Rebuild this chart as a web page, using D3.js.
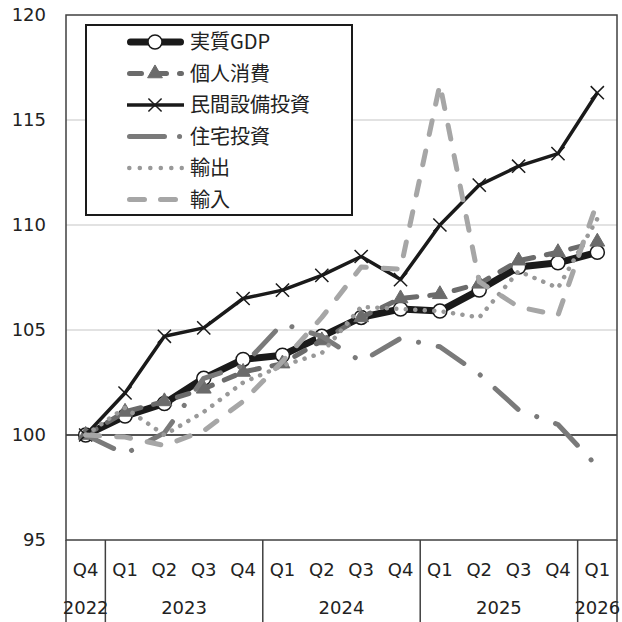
<!DOCTYPE html>
<html><head><meta charset="utf-8">
<script src="https://cdn.jsdelivr.net/npm/d3@7"></script>
<style>html,body{margin:0;padding:0;background:#fff}</style>
</head><body>
<svg id="chart" width="622" height="622"></svg>
<script>
// Quarterly index, 2022 Q4 = 100
const quarters = ["Q4","Q1","Q2","Q3","Q4","Q1","Q2","Q3","Q4","Q1","Q2","Q3","Q4","Q1"];
const yearLabels = ["2022","2023","2024","2025","2026"];
const yearStart = [0, 1, 5, 9, 13];
const yearEnd = [0, 4, 8, 12, 13];
const yTicks = [95, 100, 105, 110, 115, 120];

const gdp         = [100, 100.9, 101.5, 102.7, 103.6, 103.8, 104.7, 105.6, 106.0, 105.9, 106.9, 108.0, 108.2, 108.7];
const consumption = [100, 101.1, 101.6, 102.2, 103.0, 103.4, 104.5, 105.6, 106.5, 106.7, 107.2, 108.3, 108.7, 109.2];
const capex       = [100, 102.0, 104.7, 105.1, 106.5, 106.9, 107.6, 108.5, 107.4, 110.0, 111.9, 112.8, 113.4, 116.3];
const housing     = [100, 99.1, 100.1, 102.7, 103.3, 105.3, 104.7, 103.5, 104.6, 104.2, 102.9, 101.2, 100.5, 98.5];
const exportsIdx  = [100, 101.3, 100.0, 101.1, 102.5, 103.3, 103.9, 106.1, 106.0, 105.9, 105.6, 107.8, 107.0, 110.3];
const importsIdx  = [100, 99.9, 99.5, 100.2, 101.6, 103.5, 105.6, 108.0, 107.9, 116.7, 107.3, 106.1, 105.7, 111.1];

const seriesNames = ["実質GDP", "個人消費", "民間設備投資", "住宅投資", "輸出", "輸入"];

const svg = d3.select("#chart");
const plot = {left: 66, right: 617, top: 15, bottom: 540};
const numFont = "'DejaVu Sans', Verdana, sans-serif";
const jpFont = "'Noto Sans CJK JP', sans-serif";
const ink = "#222";

const x = d3.scaleBand().domain(d3.range(quarters.length)).range([plot.left, plot.right]);
const cx = i => x(i) + x.bandwidth() / 2;
const y = d3.scaleLinear().domain([95, 120]).range([plot.bottom, plot.top]);

// horizontal gridlines
svg.append("g").selectAll("line").data([105, 110, 115]).join("line")
  .attr("x1", plot.left).attr("x2", plot.right)
  .attr("y1", d => y(d)).attr("y2", d => y(d))
  .attr("stroke", "#d9d9d9").attr("stroke-width", 1.5);

// baseline at 100
svg.append("line")
  .attr("x1", plot.left).attr("x2", plot.right)
  .attr("y1", y(100)).attr("y2", y(100))
  .attr("stroke", "#1a1a1a").attr("stroke-width", 1.5);

// plot frame
svg.append("rect")
  .attr("x", plot.left).attr("y", plot.top)
  .attr("width", plot.right - plot.left).attr("height", plot.bottom - plot.top)
  .attr("fill", "none").attr("stroke", "#404040").attr("stroke-width", 1.5);

// y axis
svg.append("g")
  .attr("transform", `translate(${plot.left},0)`)
  .call(d3.axisLeft(y).tickValues(yTicks).tickSize(0).tickPadding(20).tickFormat(d3.format("d")))
  .call(g => g.select(".domain").remove())
  .selectAll("text")
  .attr("font-family", numFont).attr("font-size", 18).attr("fill", ink);

// x axis: quarter labels
svg.append("g")
  .attr("transform", `translate(0,${plot.bottom})`)
  .call(d3.axisBottom(x).tickSize(0).tickPadding(23).tickFormat(i => quarters[i]))
  .call(g => g.select(".domain").remove())
  .selectAll("text")
  .attr("font-family", numFont).attr("font-size", 18).attr("fill", ink);

// year group separators
const sepX = yearStart.map(i => x(i)).concat([plot.right]);
svg.append("g").selectAll("line").data(sepX).join("line")
  .attr("x1", d => d).attr("x2", d => d)
  .attr("y1", plot.bottom).attr("y2", 622)
  .attr("stroke", "#404040").attr("stroke-width", 1.5);

// year labels
svg.append("g").selectAll("text").data(yearLabels).join("text")
  .attr("x", (d, k) => (cx(yearStart[k]) + cx(yearEnd[k])) / 2)
  .attr("y", 608).attr("dy", "0.35em")
  .attr("text-anchor", "middle")
  .attr("font-family", numFont).attr("font-size", 18).attr("fill", ink)
  .text(d => d);

// series styles
const styles = [
  {data: gdp, color: "#1a1a1a", width: 7, dash: null, legendDash: null, cap: "round", marker: "circle"},
  {data: consumption, color: "#6b6b6b", width: 5, dash: "12,13", legendDash: "12,13", cap: "round", marker: "triangle"},
  {data: capex, color: "#1a1a1a", width: 3.5, dash: null, legendDash: null, cap: "butt", marker: "x"},
  {data: housing, color: "#7a7a7a", width: 5, dash: "31,20,0.1,20", legendDash: "35,15,0.1,20", cap: "round", marker: null},
  {data: exportsIdx, color: "#999999", width: 4.5, dash: "0.1,9.4", legendDash: "0.1,10.4", cap: "round", marker: null},
  {data: importsIdx, color: "#a6a6a6", width: 5, dash: "14,17", legendDash: "15,16", cap: "round", marker: null}
];

const line = d3.line().x((d, i) => cx(i)).y(d => y(d));
const triSym = d3.symbol(d3.symbolTriangle, 95);
const xSym = d3.symbol(d3.symbolX, 115);

function drawMarkers(g, s, positions) {
  if (s.marker === "circle") {
    g.selectAll("circle").data(positions).join("circle")
      .attr("cx", d => d[0]).attr("cy", d => d[1]).attr("r", 7)
      .attr("fill", "#fff").attr("stroke", "#1a1a1a").attr("stroke-width", 1.5);
  } else if (s.marker === "triangle") {
    g.selectAll("path.m").data(positions).join("path").attr("class", "m")
      .attr("d", triSym).attr("transform", d => `translate(${d[0]},${d[1]})`)
      .attr("fill", s.color).attr("stroke", s.color).attr("stroke-width", 1);
  } else if (s.marker === "x") {
    g.selectAll("path.m").data(positions).join("path").attr("class", "m")
      .attr("d", xSym).attr("transform", d => `translate(${d[0]},${d[1]})`)
      .attr("fill", "none").attr("stroke", "#1a1a1a").attr("stroke-width", 1.5);
  }
}

const seriesG = svg.append("g");
styles.forEach(s => {
  const g = seriesG.append("g");
  g.append("path").datum(s.data)
    .attr("d", line)
    .attr("fill", "none").attr("stroke", s.color).attr("stroke-width", s.width)
    .attr("stroke-linejoin", "round").attr("stroke-linecap", s.cap)
    .attr("stroke-dasharray", s.dash);
  drawMarkers(g, s, s.data.map((d, i) => [cx(i), y(d)]));
});

// legend
const legend = svg.append("g");
legend.append("rect")
  .attr("x", 86).attr("y", 25).attr("width", 266).attr("height", 190)
  .attr("fill", "#fff").attr("stroke", "#1a1a1a").attr("stroke-width", 2);

styles.forEach((s, k) => {
  const ly = 42 + k * 31.5;
  const g = legend.append("g");
  const capPad = s.cap === "round" ? s.width / 2 : 0;
  g.append("line")
    .attr("x1", 127 + capPad).attr("x2", 184 - capPad)
    .attr("y1", ly).attr("y2", ly)
    .attr("stroke", s.color).attr("stroke-width", s.width)
    .attr("stroke-linecap", s.cap)
    .attr("stroke-dasharray", s.legendDash);
  drawMarkers(g, s, [[155, ly]]);
  g.append("text")
    .attr("x", 190).attr("y", ly).attr("dy", "0.36em")
    .attr("font-family", jpFont).attr("font-size", 20).attr("fill", ink)
    .text(seriesNames[k]);
});
</script>
</body></html>
